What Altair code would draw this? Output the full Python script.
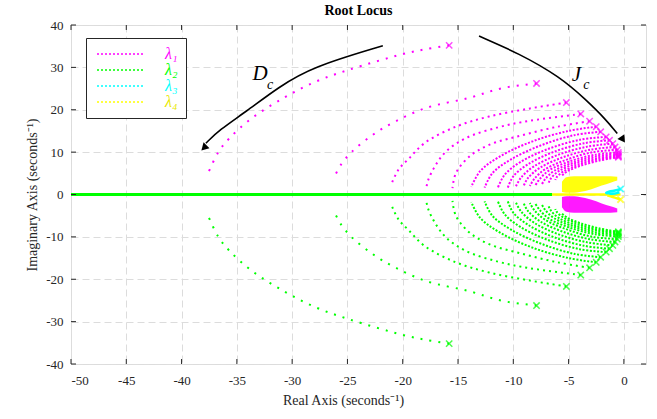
import altair as alt
import pandas as pd

# ---------------- data ----------------
# lambda_1 branches (upper half); lambda_2 is their complex conjugate
lam1_x = [
    [-15.8, -17.9, -19.9, -24.9, -27.8, -30.7, -33.7, -35.7, -36.7, -37.7],
    [-7.9, -11.0, -14.0, -17.8, -20.7, -22.7, -24.6, -25.6, -26.1],
    [-5.2, -8.5, -12.2, -15.2, -18.0, -19.4, -20.4, -21.0],
    [-3.9, -8.5, -11.3, -14.3, -16.1, -17.1, -17.7, -17.9],
    [-3.1, -6.0, -9.2, -12.2, -14.0, -15.2, -15.5],
    [-2.5, -5.0, -8.2, -11.2, -13.0, -13.8],
    [-2.1, -4.5, -7.5, -10.2, -11.9, -12.6],
    [-1.6, -4.0, -6.9, -9.4, -10.8, -11.4],
    [-1.3, -3.6, -6.4, -8.7, -10.0, -10.5],
    [-1.0, -3.3, -5.9, -8.1, -9.3, -9.8],
    [-0.8, -3.0, -5.5, -7.6, -8.7, -9.1],
    [-0.6, -2.8, -5.1, -7.1, -8.1, -8.5],
    [-0.5, -2.6, -4.8, -6.7, -7.6, -8.0],
    [-0.5, -2.5, -4.5, -6.3, -7.1, -7.4],
    [-0.5, -2.4, -4.3, -5.9, -6.6, -6.8],
    [-0.5, -2.3, -4.1, -5.5, -6.1, -6.2],
    [-0.5, -2.2, -3.9, -5.1, -5.6],
]
lam1_y = [
    [35.2, 34.3, 33.2, 29.4, 26.7, 22.9, 17.9, 13.2, 9.9, 4.4],
    [26.2, 25.1, 22.8, 20.5, 17.2, 14.1, 10.1, 7.0, 4.6],
    [21.7, 20.3, 18.4, 16.0, 12.2, 8.6, 5.8, 2.6],
    [19.0, 17.4, 15.9, 13.3, 10.1, 6.6, 3.4, 1.1],
    [17.3, 16.0, 14.0, 11.7, 8.9, 5.0, 1.5],
    [16.0, 15.0, 12.6, 9.0, 5.5, 1.8],
    [14.8, 14.0, 11.6, 8.3, 5.0, 1.6],
    [13.6, 12.9, 10.7, 7.6, 4.6, 1.6],
    [12.8, 12.1, 10.0, 7.1, 4.3, 1.6],
    [12.0, 11.3, 9.4, 6.7, 4.0, 1.7],
    [11.2, 10.6, 8.8, 6.3, 3.8, 1.8],
    [10.5, 10.0, 8.3, 6.0, 3.7, 2.0],
    [9.9, 9.4, 7.9, 5.8, 3.7, 2.2],
    [9.5, 9.0, 7.6, 5.6, 3.7, 2.5],
    [9.2, 8.6, 7.3, 5.5, 3.8, 2.8],
    [9.0, 8.3, 7.0, 5.4, 4.0, 3.4],
    [8.8, 8.0, 6.8, 5.5, 4.5],
]
# dot style group of each branch: far (sparse dots), mid, near (dense dots)
arc_group = ["far", "far", "mid", "mid", "mid"] + ["near"] * 12

# dense "wing" regions next to the origin
wing_x = [-5.6, -5.2, -4.5, -4.0, -3.0, -2.0, -1.2, -0.6]
wing_outer = [3.0, 4.1, 4.3, 4.3, 4.3, 4.3, 4.3, 4.2]
wing_inner = [0.6, 0.4, 0.4, 0.6, 1.2, 2.1, 2.8, 3.3]

# branches on the real axis
green_axis_x = [-50.0, -6.5]
yellow_axis_x = [-6.5, -0.3]

# lambda_3 small loop and lambda_4 short tail
lam3_x = [-0.3, -0.8, -1.3, -1.6, -1.3, -0.8, -0.4]
lam3_y = [1.3, 0.95, 0.7, 0.35, 0.15, 0.25, 0.5]
lam4_x = [-1.5, -1.0, -0.5, -0.3]
lam4_y = [-0.2, -0.6, -1.0, -1.2]

# annotation arrows
arrowD_x = [-21.8, -28.2, -31.2, -34.2, -36.6, -37.8]
arrowD_y = [35.1, 30.1, 25.4, 19.5, 15.2, 12.1]
arrowJ_x = [-13.1, -9.5, -5.8, -3.4, -1.6, -0.6]
arrowJ_y = [37.4, 33.3, 27.8, 22.3, 17.6, 14.4]
head_x = [-37.9, -0.15]
head_y = [11.2, 13.2]
head_angle = [225, 146]

letter_text = ["D", "J"]
letter_x = [-32.9, -4.3]
letter_y = [28.4, 28.2]
sub_text = ["c", "c"]
sub_x = [-32.0, -3.4]
sub_y = [25.8, 25.8]

xticks = [-50, -45, -40, -35, -30, -25, -20, -15, -10, -5, 0]
yticks = [-40, -30, -20, -10, 0, 10, 20, 30, 40]

series_names = ["λ₁", "λ₂", "λ₃", "λ₄"]
series_colors = ["#ff00ff", "#00ff00", "#00ffff", "#ffff00"]

X_MIN, X_MAX, Y_MIN, Y_MAX = -50, 2, -40, 40
FONT = "Liberation Serif"

# ---------------- tables ----------------
rows = []
for k, (xs, ys) in enumerate(zip(lam1_x, lam1_y)):
    grp = arc_group[k]
    for i, (xv, yv) in enumerate(zip(xs, ys)):
        rows.append(dict(series="λ₁", arc=f"a{k}", grp=grp, i=i, x=xv, y=yv))
        rows.append(dict(series="λ₂", arc=f"b{k}", grp=grp, i=i, x=xv, y=-yv))
arcs = pd.DataFrame(rows)
starts = arcs[arcs["i"] == 0]

wing_up = pd.DataFrame(dict(x=wing_x, y=wing_outer, y2=wing_inner))
wing_dn = pd.DataFrame(dict(x=wing_x, y=[-v for v in wing_inner],
                            y2=[-v for v in wing_outer]))

axis_lines = pd.DataFrame(
    [dict(seg="g", x=v, y=0.0) for v in green_axis_x]
    + [dict(seg="y", x=v, y=0.0) for v in yellow_axis_x]
)
small = pd.DataFrame(
    [dict(seg="c", i=i, x=a, y=b) for i, (a, b) in enumerate(zip(lam3_x, lam3_y))]
    + [dict(seg="t", i=i, x=a, y=b) for i, (a, b) in enumerate(zip(lam4_x, lam4_y))]
)
small_marks = pd.DataFrame(dict(series=["λ₃", "λ₄"], x=[lam3_x[0], lam4_x[-1]],
                                y=[lam3_y[0], lam4_y[-1]]))

arrows = pd.DataFrame(
    [dict(a="D", i=i, x=a, y=b) for i, (a, b) in enumerate(zip(arrowD_x, arrowD_y))]
    + [dict(a="J", i=i, x=a, y=b) for i, (a, b) in enumerate(zip(arrowJ_x, arrowJ_y))]
)
heads = pd.DataFrame(dict(x=head_x, y=head_y, ang=head_angle))
letters = pd.DataFrame(dict(t=letter_text, x=letter_x, y=letter_y))
subs = pd.DataFrame(dict(t=sub_text, x=sub_x, y=sub_y))

tick_len_y = 5 / 4.24
tick_len_x = 5 / 11.06
trows = []
for v in xticks:
    trows.append(dict(x=v, x2=v, y=Y_MIN, y2=Y_MIN + tick_len_y))
    trows.append(dict(x=v, x2=v, y=Y_MAX, y2=Y_MAX - tick_len_y))
for v in yticks:
    trows.append(dict(x=X_MIN, x2=X_MIN + tick_len_x, y=v, y2=v))
    trows.append(dict(x=X_MAX, x2=X_MAX - tick_len_x, y=v, y2=v))
tickdf = pd.DataFrame(trows)

# ---------------- encodings ----------------
xscale = alt.Scale(domain=[X_MIN, X_MAX], nice=False, zero=False)
yscale = alt.Scale(domain=[Y_MIN, Y_MAX], nice=False, zero=False)
grid_kw = dict(grid=True, gridColor="#dcdcdc", gridDash=[7, 4], gridWidth=1,
               domain=False, ticks=False, labelFont=FONT, labelFontSize=13,
               labelColor="#262626", titleFont=FONT, titleFontSize=14,
               titleColor="#262626", titleFontWeight="normal",
               labelExpr="datum.value + ''")
X = alt.X("x:Q", scale=xscale,
          axis=alt.Axis(values=xticks, title="Real Axis (seconds⁻¹)",
                        labelPadding=10, titlePadding=6, titleX=272, **grid_kw))
Y = alt.Y("y:Q", scale=yscale,
          axis=alt.Axis(values=yticks, title="Imaginary Axis (seconds⁻¹)",
                        labelPadding=8, titlePadding=6, **grid_kw))

color_scale = alt.Scale(domain=series_names, range=series_colors)
label_color = ("datum.value == 'λ₁' ? '#ff00ff' : datum.value == 'λ₂' ? '#00ff00' : "
               "datum.value == 'λ₃' ? '#00ffff' : '#e8e800'")

legend = alt.Legend(
    title=None, orient="none", legendX=15, legendY=13,
    symbolType="M-1,0H8.6", symbolSize=100, symbolStrokeWidth=1.5,
    symbolDash=[2, 2], labelFont=FONT, labelFontSize=16,
    labelFontStyle="italic", labelColor=alt.ExprRef(expr=label_color),
    labelOffset=55, rowPadding=0, padding=8, strokeColor="#262626",
    fillColor="white", cornerRadius=0,
)

dash_of = {"far": [2, 7], "mid": [2, 4], "near": [2, 1.6]}
arc_layers = []
for g, dash in dash_of.items():
    arc_layers.append(
        alt.Chart(arcs[arcs.grp == g]).mark_line(
            strokeWidth=2, strokeDash=dash, interpolate="catmull-rom", clip=True
        ).encode(
            x=X, y=Y,
            color=alt.Color("series:N", scale=color_scale,
                            legend=legend if g == "far" else None),
            detail="arc:N", order="i:Q",
        )
    )

xpath = "M-1,-1L1,1M1,-1L-1,1"
start_layer = alt.Chart(starts).mark_point(
    shape=xpath, size=40, strokeWidth=1.5, filled=False, clip=True
).encode(x=X, y=Y, color=alt.Color("series:N", scale=color_scale, legend=None))

wing_y = alt.Chart(wing_up).mark_area(color="#ffff00", opacity=0.95,
                                      interpolate="monotone", clip=True).encode(
    x=X, y=Y, y2="y2:Q")
wing_m = alt.Chart(wing_dn).mark_area(color="#ff00ff", opacity=0.9,
                                      interpolate="monotone", clip=True).encode(
    x=X, y=Y, y2="y2:Q")

axis_green = alt.Chart(axis_lines[axis_lines.seg == "g"]).mark_line(
    color="#00ff00", strokeWidth=3, clip=True).encode(x=X, y=Y)
axis_yellow = alt.Chart(axis_lines[axis_lines.seg == "y"]).mark_line(
    color="#ffff00", strokeWidth=2.5, clip=True).encode(x=X, y=Y)

loop_c = alt.Chart(small[small.seg == "c"]).mark_line(
    color="#00ffff", strokeWidth=2.5, interpolate="catmull-rom").encode(
    x=X, y=Y, order="i:Q")
tail_y = alt.Chart(small[small.seg == "t"]).mark_line(
    color="#ffff00", strokeWidth=2.5, interpolate="catmull-rom").encode(
    x=X, y=Y, order="i:Q")
small_x = alt.Chart(small_marks).mark_point(
    shape=xpath, size=40, strokeWidth=1.8, filled=False).encode(
    x=X, y=Y, color=alt.Color("series:N", scale=color_scale, legend=None))

arrow_lines = alt.Chart(arrows).mark_line(
    color="black", strokeWidth=1.6, interpolate="basis").encode(
    x=X, y=Y, detail="a:N", order="i:Q")
arrow_heads = alt.Chart(heads).mark_point(
    shape="triangle", size=70, filled=True, color="black", opacity=1).encode(
    x=X, y=Y, angle=alt.Angle("ang:Q", scale=None))

letter_layer = alt.Chart(letters).mark_text(
    font=FONT, fontSize=21, fontStyle="italic", color="black").encode(
    x=X, y=Y, text="t:N")
sub_layer = alt.Chart(subs).mark_text(
    font=FONT, fontSize=14, fontStyle="italic", color="black").encode(
    x=X, y=Y, text="t:N")

tick_layer = alt.Chart(tickdf).mark_rule(color="#262626", strokeWidth=1).encode(
    x=X, y=Y, x2="x2:Q", y2="y2:Q")

chart = alt.layer(
    *arc_layers, wing_m, start_layer, axis_green, axis_yellow, wing_y,
    loop_c, tail_y, small_x, arrow_lines, arrow_heads, letter_layer, sub_layer,
    tick_layer,
).resolve_scale(color="shared").properties(
    width=575, height=339,
    title=alt.Title("Root Locus", font=FONT, fontSize=14, fontWeight="bold",
                    color="black", offset=1),
    autosize=alt.AutoSizeParams(type="none"),
    padding={"left": 71, "top": 25, "right": 11, "bottom": 55},
).configure_view(stroke="#262626", strokeWidth=1).configure(background="white")

chart.save("out.html", embed_options={"renderer": "svg", "actions": False})
